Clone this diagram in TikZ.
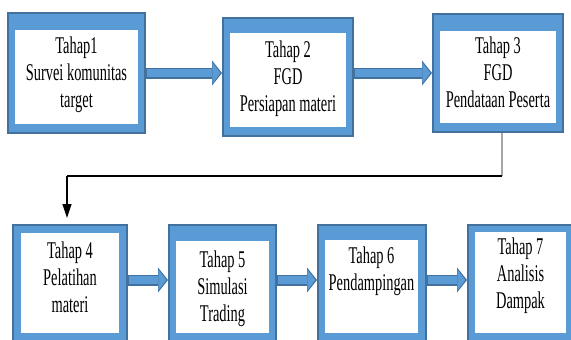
\documentclass[tikz,border=0pt]{standalone}
\usepackage{fontspec}
\setmainfont[FakeStretch=0.6]{Liberation Serif}
\usetikzlibrary{arrows.meta,calc}
\definecolor{boxblue}{HTML}{5B9BD5}
\definecolor{edgeblue}{HTML}{41719C}
\definecolor{linkgray}{HTML}{A6A6A6}
\newcommand{\blockarrow}[2]{%
  \draw[arrowout] #1 -- #2;
  \draw[arrowin] #1 -- #2;}
\begin{document}
\begin{tikzpicture}[x=1pt,y=-1pt,
  outerbox/.style={draw=edgeblue,fill=boxblue,line width=2pt,inner sep=0pt},
  innerbox/.style={fill=white,inner sep=0pt},
  steptext/.style={anchor=north,align=center,inner sep=0pt,font=\fontsize{24}{27}\selectfont},
  arrowout/.style={edgeblue,line width=11pt,-{Triangle[length=10pt,width=25pt,line width=0pt]}},
  arrowin/.style={boxblue,line width=8.5pt,shorten >=1.6pt,shorten <=1pt,-{Triangle[length=8pt,width=21pt,line width=0pt]}},
  linkline/.style={line width=1.5pt}
]
\useasboundingbox (0,0) rectangle (571,340);
\clip (0,0) rectangle (571,340);

% row 1
\node[outerbox,minimum width=137pt,minimum height=120pt] (b1) at (76.5,73) {};
\node[innerbox,minimum width=123pt,minimum height=94pt] (i1) at (76.5,77) {};
\node[steptext] (t1) at (76.5,36.6) {Tahap1\\Survei komunitas\\target};

\node[outerbox,minimum width=130pt,minimum height=118pt] (b2) at (288,77) {};
\node[innerbox,minimum width=116pt,minimum height=94pt] (i2) at (288,80) {};
\node[steptext] (t2) at (288,40.6) {Tahap 2\\FGD\\Persiapan materi};

\node[outerbox,minimum width=130pt,minimum height=118pt] (b3) at (498,73) {};
\node[innerbox,minimum width=116pt,minimum height=92pt] (i3) at (498,77) {};
\node[steptext] (t3) at (498,36.6) {Tahap 3\\FGD\\Pendataan Peserta};

% row 2
\node[outerbox,minimum width=114pt,minimum height=116pt] (b4) at (70,283) {};
\node[innerbox,minimum width=98pt,minimum height=100pt] (i4) at (70,283) {};
\node[steptext] (t4) at (70,241.6) {Tahap 4\\Pelatihan\\materi};

\node[outerbox,minimum width=107pt,minimum height=116pt] (b5) at (222.5,283) {};
\node[innerbox,minimum width=93pt,minimum height=92pt] (i5) at (222.5,287) {};
\node[steptext] (t5) at (222.5,250.6) {Tahap 5\\Simulasi\\Trading};

\node[outerbox,minimum width=108pt,minimum height=116pt] (b6) at (372,283) {};
\node[innerbox,minimum width=93pt,minimum height=93pt] (i6) at (371.5,286.5) {};
\node[steptext] (t6) at (371.5,246.6) {Tahap 6\\Pendampingan};

\node[outerbox,minimum width=107pt,minimum height=116pt] (b7) at (521.5,283) {};
\node[innerbox,minimum width=91pt,minimum height=101pt] (i7) at (520.5,282.5) {};
\node[steptext] (t7) at (520.5,237.6) {Tahap 7\\Analisis\\Dampak};

% block arrows
\blockarrow{(b1.east)}{(b1.east -| b2.west)}
\blockarrow{(b3.west -| b2.east)}{(b3.west)}
\blockarrow{($(b4.east)+(0,-3)$)}{($(b4.east -| b5.west)+(0,-3)$)}
\blockarrow{($(b5.east)+(0,-3)$)}{($(b5.east -| b6.west)+(0,-3)$)}
\blockarrow{($(b6.east)+(0,-3)$)}{($(b6.east -| b7.west)+(0,-3)$)}

% connector from stage 3 to stage 4
\coordinate (k1) at (502,176);
\coordinate (k2) at (67,176);
\draw[linkline,linkgray] (k1 |- b3.south) -- (k1);
\draw[linkline,black] (k1) -- (k2);
\draw[line width=1.2pt,black,shorten >=6pt,-{Triangle[length=14pt,width=9pt]}] (k2) -- (k2 |- b4.north);
\end{tikzpicture}
\end{document}
